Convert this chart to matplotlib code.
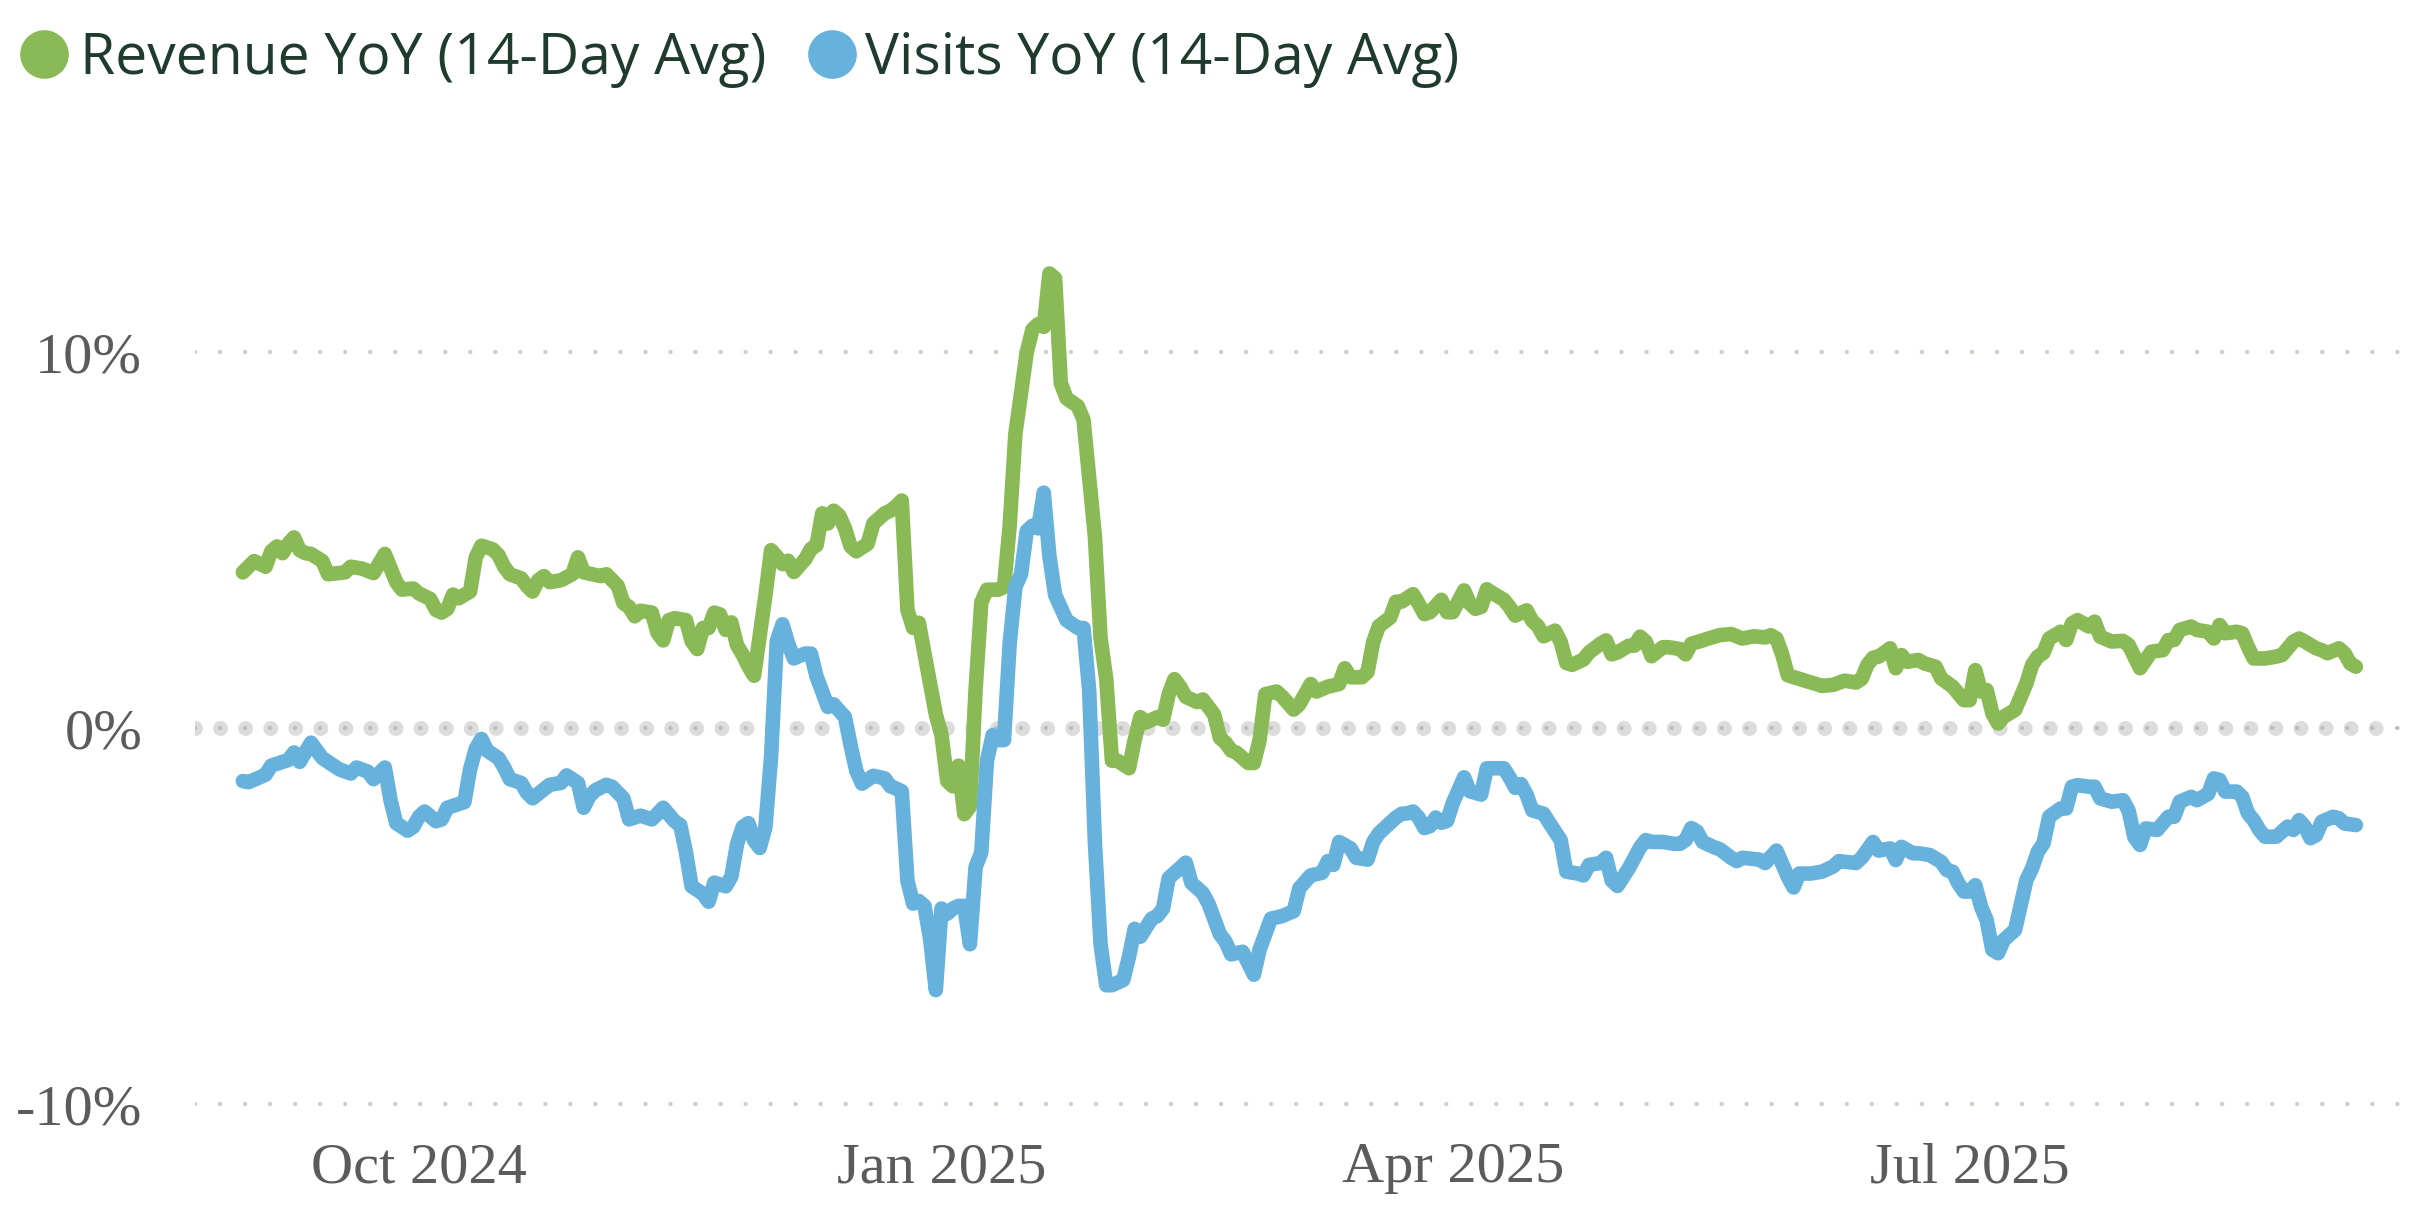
import matplotlib
matplotlib.use("Agg")
import matplotlib.pyplot as plt
from matplotlib.lines import Line2D
import pandas as pd

# daily YoY values (%), day offsets from the first day of the series
start_date = "2024-08-31"

rev_days = [0, 2, 4, 5, 6, 7, 8, 9, 10, 11, 12, 14, 15, 18, 19, 21, 23, 25, 27, 28, 30, 31, 33, 34, 35, 36, 37, 38,
            40, 41, 42, 44, 45, 46, 47, 49, 50, 51, 52, 53, 54, 56, 58, 59, 60, 63, 64, 66, 67, 68, 69, 70, 72, 73,
            74, 75, 76, 78, 79, 80, 81, 82, 83, 84, 85, 86, 87, 88, 89, 90, 92, 93, 94, 95, 96, 97, 99, 100, 101,
            102, 103, 104, 105, 106, 107, 108, 110, 111, 113, 114, 115, 116, 117, 118, 119, 120, 121, 122, 123, 124,
            125, 126, 127, 128, 129, 130, 131, 133, 134, 135, 136, 137, 138, 139, 140, 141, 142, 143, 144, 145, 147,
            148, 150, 151, 152, 153, 154, 156, 157, 158, 159, 161, 162, 163, 164, 165, 166, 168, 169, 171, 172, 173,
            174, 175, 177, 178, 179, 180, 182, 183, 185, 186, 188, 189, 191, 193, 194, 195, 197, 198, 199, 200, 202,
            203, 204, 206, 207, 208, 209, 211, 212, 213, 215, 216, 217, 218, 219, 220, 222, 223, 224, 226, 227, 228,
            229, 231, 232, 233, 234, 236, 237, 239, 240, 241, 242, 244, 245, 246, 247, 248, 250, 251, 253, 254, 255,
            257, 258, 260, 262, 263, 264, 266, 268, 269, 270, 271, 272, 274, 275, 277, 278, 280, 282, 284, 285, 286,
            287, 288, 290, 291, 292, 293, 295, 296, 298, 299, 301, 302, 303, 304, 305, 306, 307, 308, 309, 310, 312,
            313, 314, 315, 316, 317, 318, 320, 321, 322, 323, 325, 326, 327, 329, 331, 332, 333, 334, 335, 336, 338,
            339, 340, 341, 343, 344, 346, 347, 348, 349, 351, 352, 353, 354, 356, 358, 359, 361, 362, 363, 365, 366,
            367, 369, 370, 371, 372]
revenue = [4.14, 4.44, 4.29, 4.70, 4.83, 4.65, 4.90, 5.07, 4.73, 4.65, 4.63, 4.44, 4.09, 4.14, 4.29, 4.24, 4.12, 4.63,
           3.88, 3.68, 3.71, 3.58, 3.43, 3.14, 3.07, 3.17, 3.55, 3.45, 3.63, 4.54, 4.85, 4.75, 4.60, 4.29, 4.09, 3.98,
           3.78, 3.63, 3.93, 4.04, 3.88, 3.93, 4.09, 4.54, 4.14, 4.04, 4.09, 3.78, 3.32, 3.22, 2.97, 3.12, 3.07, 2.53,
           2.33, 2.87, 2.92, 2.87, 2.31, 2.10, 2.66, 2.66, 3.07, 3.02, 2.61, 2.81, 2.20, 1.95, 1.64, 1.39, 3.53, 4.73,
           4.56, 4.36, 4.45, 4.15, 4.49, 4.76, 4.86, 5.71, 5.44, 5.78, 5.65, 5.31, 4.83, 4.70, 4.90, 5.44, 5.71, 5.78,
           5.90, 6.05, 3.14, 2.66, 2.80, 1.98, 1.17, 0.36, -0.19, -1.41, -1.55, -1.00, -2.29, -2.09, 1.03, 3.34, 3.68,
           3.68, 3.75, 5.38, 7.82, 8.90, 9.99, 10.60, 10.74, 10.67, 12.09, 11.96, 9.17, 8.77, 8.56, 8.20, 5.10, 2.39,
           1.30, -0.87, -0.87, -1.07, -0.32, 0.29, 0.15, 0.29, 0.22, 0.90, 1.30, 1.10, 0.83, 0.69, 0.76, 0.36, -0.26,
           -0.39, -0.60, -0.66, -0.93, -0.93, -0.32, 0.90, 0.97, 0.83, 0.49, 0.63, 1.17, 0.97, 1.10, 1.17, 1.59, 1.35,
           1.35, 1.49, 2.29, 2.71, 2.94, 3.36, 3.36, 3.56, 3.31, 3.03, 3.08, 3.41, 3.08, 3.08, 3.66, 3.31, 3.17, 3.22,
           3.69, 3.59, 3.41, 3.22, 2.99, 3.13, 2.85, 2.71, 2.44, 2.59, 2.29, 1.73, 1.68, 1.82, 2.01, 2.24, 2.33, 1.96,
           2.01, 2.19, 2.19, 2.43, 2.29, 1.91, 2.15, 2.15, 2.10, 1.96, 2.24, 2.33, 2.38, 2.47, 2.50, 2.44, 2.38, 2.44,
           2.41, 2.47, 2.38, 1.96, 1.40, 1.31, 1.26, 1.17, 1.12, 1.15, 1.26, 1.21, 1.31, 1.68, 1.87, 1.90, 2.12, 1.59,
           1.94, 1.76, 1.81, 1.72, 1.63, 1.32, 1.10, 0.92, 0.74, 0.74, 1.54, 0.97, 1.01, 0.39, 0.12, 0.30, 0.48, 0.83,
           1.19, 1.68, 1.90, 2.00, 2.38, 2.56, 2.34, 2.78, 2.87, 2.70, 2.83, 2.43, 2.30, 2.32, 2.21, 1.90, 1.59, 1.81,
           2.03, 2.07, 2.34, 2.34, 2.61, 2.70, 2.61, 2.56, 2.38, 2.74, 2.52, 2.56, 2.52, 2.16, 1.85, 1.85, 1.90, 1.94,
           2.30, 2.38, 2.30, 2.12, 2.07, 1.99, 2.12, 1.99, 1.72, 1.63]

vis_days = [0, 1, 3, 4, 5, 7, 8, 9, 10, 12, 14, 15, 17, 19, 20, 22, 23, 25, 26, 27, 29, 30, 31, 32, 34, 35, 36, 38, 39,
            40, 41, 42, 43, 45, 46, 47, 49, 50, 51, 52, 54, 56, 57, 59, 60, 61, 62, 64, 65, 67, 68, 70, 72, 73, 74, 76,
            77, 78, 79, 81, 82, 83, 85, 86, 87, 88, 89, 90, 91, 92, 93, 94, 95, 96, 97, 98, 99, 100, 101, 102, 103,
            104, 106, 107, 108, 109, 111, 113, 114, 115, 116, 117, 118, 119, 120, 121, 122, 123, 124, 125, 126, 127,
            128, 129, 130, 131, 132, 133, 134, 135, 136, 137, 138, 139, 140, 141, 142, 143, 145, 147, 148, 149, 150,
            151, 152, 153, 155, 156, 157, 158, 160, 161, 162, 163, 165, 166, 167, 169, 170, 172, 173, 174, 176, 178,
            179, 180, 181, 183, 185, 186, 188, 190, 191, 192, 193, 195, 196, 198, 199, 200, 201, 203, 204, 205, 206,
            207, 208, 209, 210, 211, 212, 213, 215, 216, 218, 219, 220, 222, 223, 224, 225, 226, 227, 229, 230, 232,
            233, 235, 236, 237, 239, 240, 241, 242, 244, 246, 247, 248, 250, 252, 253, 254, 255, 256, 257, 259, 260,
            262, 263, 264, 267, 268, 270, 272, 273, 274, 276, 278, 280, 281, 284, 285, 287, 288, 290, 291, 292, 294,
            295, 297, 299, 300, 301, 302, 303, 304, 305, 306, 307, 308, 309, 310, 312, 313, 314, 315, 316, 317, 318,
            320, 321, 322, 323, 325, 326, 327, 329, 331, 332, 333, 334, 335, 337, 339, 340, 341, 343, 344, 346, 347,
            348, 349, 351, 352, 353, 354, 355, 356, 358, 360, 361, 362, 363, 364, 365, 366, 368, 369, 370, 372]
visits = [-1.41, -1.44, -1.31, -1.24, -1.00, -0.90, -0.85, -0.65, -0.90, -0.39, -0.80, -0.90, -1.10, -1.21, -1.05,
          -1.16, -1.36, -1.05, -1.92, -2.53, -2.73, -2.63, -2.36, -2.22, -2.48, -2.43, -2.12, -2.02, -1.97, -1.10,
          -0.55, -0.29, -0.60, -0.80, -1.05, -1.36, -1.46, -1.72, -1.87, -1.75, -1.51, -1.46, -1.26, -1.46, -2.12,
          -1.82, -1.66, -1.51, -1.56, -1.87, -2.43, -2.33, -2.43, -2.28, -2.12, -2.48, -2.58, -3.30, -4.21, -4.41,
          -4.62, -4.11, -4.21, -3.95, -3.09, -2.63, -2.53, -2.99, -3.19, -2.63, -0.75, 2.31, 2.76, 2.25, 1.85, 1.92,
          1.98, 1.98, 1.37, 0.97, 0.56, 0.63, 0.29, -0.46, -1.14, -1.48, -1.27, -1.34, -1.55, -1.61, -1.68, -4.06,
          -4.67, -4.60, -4.73, -5.62, -6.97, -4.80, -4.94, -4.80, -4.73, -4.73, -5.75, -3.70, -3.31, -0.87, -0.19,
          -0.32, -0.32, 2.25, 3.75, 4.09, 5.24, 5.38, 5.31, 6.26, 4.56, 3.54, 2.87, 2.66, 2.66, 1.00, -3.04, -5.75,
          -6.84, -6.84, -6.70, -6.09, -5.34, -5.55, -5.07, -5.00, -4.80, -3.99, -3.72, -3.58, -4.12, -4.39, -4.67,
          -5.48, -5.68, -6.02, -5.95, -6.56, -5.89, -5.48, -5.07, -5.00, -4.87, -4.26, -3.92, -3.85, -3.54, -3.64,
          -3.03, -3.20, -3.45, -3.50, -3.03, -2.80, -2.66, -2.38, -2.28, -2.27, -2.22, -2.38, -2.66, -2.61, -2.38,
          -2.52, -2.47, -2.00, -1.31, -1.68, -1.77, -1.07, -1.07, -1.07, -1.31, -1.59, -1.49, -1.77, -2.19, -2.28,
          -2.52, -2.98, -3.82, -3.87, -3.92, -3.64, -3.59, -3.45, -4.06, -4.20, -3.73, -3.17, -2.98, -3.03, -3.03,
          -3.08, -3.08, -2.98, -2.66, -2.75, -3.03, -3.17, -3.22, -3.45, -3.54, -3.45, -3.50, -3.59, -3.26, -3.96,
          -4.24, -3.87, -3.87, -3.82, -3.68, -3.54, -3.59, -3.45, -3.03, -3.26, -3.20, -3.51, -3.16, -3.33, -3.33,
          -3.38, -3.56, -3.78, -3.82, -4.13, -4.35, -4.35, -4.18, -4.75, -5.11, -5.90, -5.99, -5.64, -5.37, -4.71,
          -4.04, -3.73, -3.29, -3.07, -2.36, -2.14, -2.14, -1.56, -1.52, -1.56, -1.56, -1.87, -1.96, -1.92, -2.20,
          -2.90, -3.11, -2.67, -2.71, -2.36, -2.36, -1.96, -1.83, -1.92, -1.75, -1.34, -1.38, -1.69, -1.69, -1.83,
          -2.27, -2.45, -2.71, -2.89, -2.89, -2.62, -2.71, -2.45, -2.62, -2.93, -2.85, -2.49, -2.36, -2.40, -2.54,
          -2.58]

series_names = ["Revenue YoY (14-Day Avg)", "Visits YoY (14-Day Avg)"]
y_ticks = [-10, 0, 10]
y_tick_labels = ["-10%", "0%", "10%"]
x_ticks = ["2024-10-01", "2025-01-01", "2025-04-01", "2025-07-01"]
x_tick_labels = ["Oct 2024", "Jan 2025", "Apr 2025", "Jul 2025"]

green = "#8aba56"
blue = "#67b2dc"

t0 = pd.Timestamp(start_date)
rev_x = t0 + pd.to_timedelta(rev_days, unit="D")
vis_x = t0 + pd.to_timedelta(vis_days, unit="D")

fig = plt.figure(figsize=(24.32, 12.08), dpi=100)
ax = fig.add_axes([0.0802, 0.0705, 0.9067, 0.7626])

# dotted grid lines
ax.axhline(0, color="#dcdcdc", lw=10.8, linestyle=(0, (0.001, 1.67)), dash_capstyle="round", zorder=1)
ax.axhline(0, color="#bcbfb9", lw=3.2, linestyle=(0, (0.001, 5.63)), dash_capstyle="round", zorder=1)
for yv in (-10, 10):
    ax.axhline(yv, color="#c9d3c2", lw=3.2, linestyle=(0, (0.001, 5.63)), dash_capstyle="round", zorder=1)

ax.plot(rev_x, revenue, color=green, lw=10.5, solid_joinstyle="round", solid_capstyle="round", zorder=3)
ax.plot(vis_x, visits, color=blue, lw=10.5, solid_joinstyle="round", solid_capstyle="round", zorder=3)

ax.set_xlim(pd.Timestamp("2024-08-22 14:00"), pd.Timestamp("2025-09-14 19:00"))
ax.set_ylim(-10.5, 14)

tick_font = dict(family=["Liberation Serif", "DejaVu Serif"], size=42, color="#5b5b5b")
ax.set_yticks(y_ticks)
ax.set_yticklabels(y_tick_labels, fontdict=tick_font)
ax.set_xticks(pd.to_datetime(x_ticks))
ax.set_xticklabels(x_tick_labels, fontdict=tick_font)
ax.tick_params(axis="y", length=0, pad=38)
ax.tick_params(axis="x", length=0, pad=14)
for s in ax.spines.values():
    s.set_visible(False)

# legend drawn by hand at the top left
leg_font = dict(family=["Open Sans", "DejaVu Sans"], size=41, color="#1f3b2d")
fig.add_artist(Line2D([44 / 2432], [1 - 54 / 1208], transform=fig.transFigure, marker="o",
                      markersize=34, color=green, linestyle=""))
fig.text(80 / 2432, 1 - 74 / 1208, series_names[0], va="baseline", ha="left", fontdict=leg_font)
fig.add_artist(Line2D([832 / 2432], [1 - 54 / 1208], transform=fig.transFigure, marker="o",
                      markersize=34, color=blue, linestyle=""))
fig.text(865 / 2432, 1 - 74 / 1208, series_names[1], va="baseline", ha="left", fontdict=leg_font)

fig.savefig("out.png", dpi=100)
